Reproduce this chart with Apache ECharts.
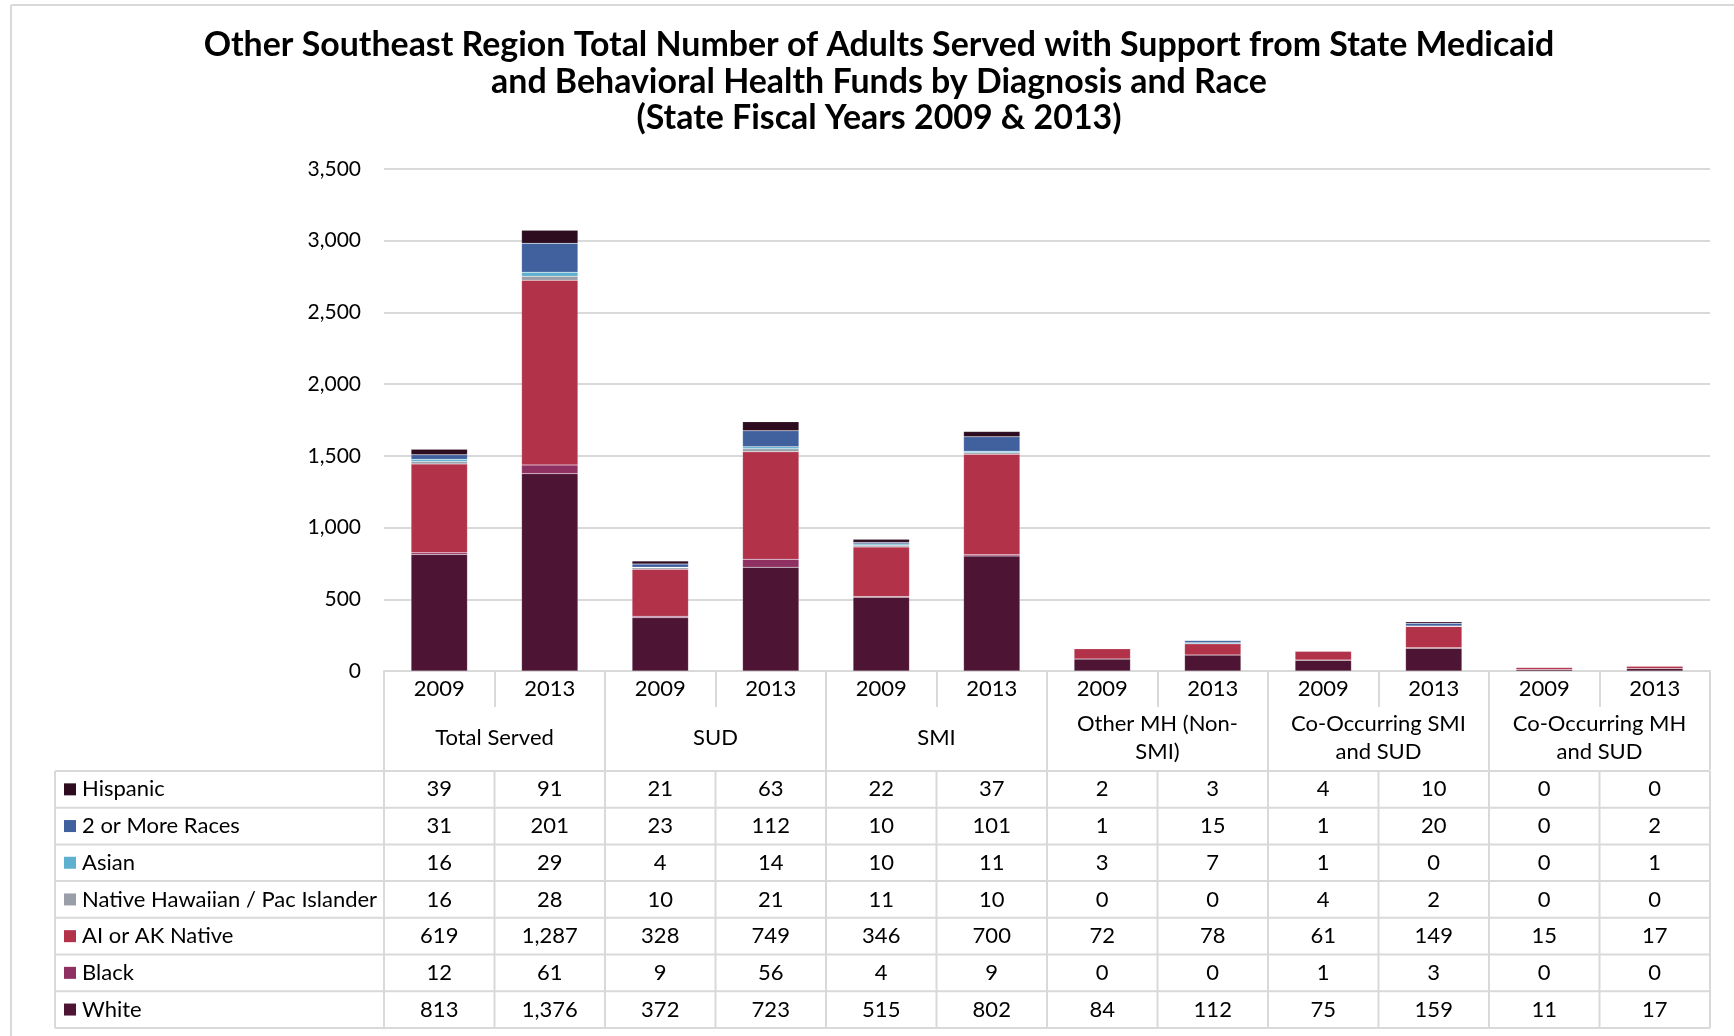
<!DOCTYPE html>
<html>
<head>
<meta charset="utf-8">
<script src="https://cdn.jsdelivr.net/npm/echarts@6/dist/echarts.min.js"></script>
<style>
  html, body { margin: 0; background: #fff; }
  #chart { width: 1734px; height: 1036px; }
</style>
</head>
<body>
<div id="chart"></div>
<script>
// categories
const years = ['2009', '2013', '2009', '2013', '2009', '2013', '2009', '2013', '2009', '2013', '2009', '2013']
const groups = ['Total Served', 'SUD', 'SMI', 'Other MH (Non-\nSMI)', 'Co-Occurring SMI\nand SUD', 'Co-Occurring MH\nand SUD']

// values per race, one per year column
const white = [813, 1376, 372, 723, 515, 802, 84, 112, 75, 159, 11, 17]
const black = [12, 61, 9, 56, 4, 9, 0, 0, 1, 3, 0, 0]
const aiak = [619, 1287, 328, 749, 346, 700, 72, 78, 61, 149, 15, 17]
const nhpi = [16, 28, 10, 21, 11, 10, 0, 0, 4, 2, 0, 0]
const asian = [16, 29, 4, 14, 10, 11, 3, 7, 1, 0, 0, 1]
const multi = [31, 201, 23, 112, 10, 101, 1, 15, 1, 20, 0, 2]
const hispanic = [39, 91, 21, 63, 22, 37, 2, 3, 4, 10, 0, 0]

// stack order, bottom to top
const raceNames = ['White', 'Black', 'AI or AK Native', 'Native Hawaiian / Pac Islander', 'Asian', '2 or More Races', 'Hispanic']
const raceValues = [white, black, aiak, nhpi, asian, multi, hispanic]
const raceColors = ['#4d1433', '#8e3062', '#b2324a', '#9a9ea8', '#5eb0cf', '#40609e', '#2d0c20']

const yTicks = { min: 0, max: 3500, interval: 500 }

const FONT = 'Lato, "DejaVu Sans", sans-serif'
const LINE = '#d9d9d9'

const chart = echarts.init(document.getElementById('chart'))

const gridBox = { left: 384, right: 24, top: 169, bottom: 365 }

chart.setOption({
  animation: false,
  backgroundColor: '#fff',
  textStyle: { fontFamily: FONT },
  title: {
    text: 'Other Southeast Region Total Number of Adults Served with Support from State Medicaid\nand Behavioral Health Funds by Diagnosis and Race\n(State Fiscal Years 2009 & 2013)',
    left: 874,
    textAlign: 'center',
    top: 22,
    textStyle: { fontFamily: FONT, fontSize: 33.9, fontWeight: 'bold', color: '#000', lineHeight: 36.5 }
  },
  grid: { ...gridBox, containLabel: false },
  xAxis: [
    {
      type: 'category',
      data: years,
      position: 'bottom',
      axisLine: { lineStyle: { color: LINE, width: 2 } },
      axisTick: { show: true, interval: 0, length: 36, lineStyle: { color: LINE, width: 2 } },
      axisLabel: { interval: 0, fontSize: 22, color: '#000', margin: 18, verticalAlign: 'middle' }
    },
    {
      type: 'category',
      data: groups,
      position: 'bottom',
      offset: 0,
      axisLine: { show: false },
      axisTick: { show: true, interval: 0, length: 99, lineStyle: { color: LINE, width: 2 } },
      axisLabel: { interval: 0, fontSize: 22, color: '#000', margin: 67, verticalAlign: 'middle', lineHeight: 28 }
    }
  ],
  yAxis: {
    type: 'value',
    ...yTicks,
    axisLine: { show: false },
    axisTick: { show: false },
    splitLine: { lineStyle: { color: LINE, width: 2 } },
    axisLabel: {
      fontSize: 21, color: '#000', margin: 23,
      formatter: v => v.toLocaleString('en-US')
    }
  },
  series: raceNames.map((name, i) => ({
    name,
    type: 'bar',
    stack: 'total',
    xAxisIndex: 0,
    barWidth: '51%',
    data: raceValues[i],
    itemStyle: { color: raceColors[i], borderColor: 'rgba(255,255,255,0.3)', borderWidth: 0.5 }
  }))
})

// data table under the chart, built from the same arrays
function buildTable() {
  const x0 = chart.convertToPixel({ xAxisIndex: 0 }, 0)
  const x1 = chart.convertToPixel({ xAxisIndex: 0 }, 1)
  const band = x1 - x0
  const left = x0 - band / 2
  const right = left + band * years.length
  const tableTop = 771
  const rowH = 36.7
  const legendLeft = 55
  const els = []

  // outer frame (left and top)
  els.push({ type: 'line', shape: { x1: 11, y1: 5, x2: 11, y2: 1036 }, style: { stroke: LINE, lineWidth: 2 } })
  els.push({ type: 'line', shape: { x1: 11, y1: 5, x2: 1734, y2: 5 }, style: { stroke: LINE, lineWidth: 2 } })

  const rows = raceNames.map((n, i) => i).reverse()
  const bottom = tableTop + rowH * rows.length

  for (let r = 0; r <= rows.length; r++) {
    const y = tableTop + rowH * r
    els.push({ type: 'line', shape: { x1: legendLeft, y1: y, x2: right, y2: y }, style: { stroke: LINE, lineWidth: 2 } })
  }
  els.push({ type: 'line', shape: { x1: legendLeft, y1: tableTop, x2: legendLeft, y2: bottom }, style: { stroke: LINE, lineWidth: 2 } })
  for (let k = 0; k <= years.length; k++) {
    const x = left + band * k
    els.push({ type: 'line', shape: { x1: x, y1: tableTop, x2: x, y2: bottom }, style: { stroke: LINE, lineWidth: 2 } })
  }

  rows.forEach((ri, r) => {
    const cy = tableTop + rowH * r + rowH / 2
    els.push({ type: 'rect', shape: { x: 64, y: cy - 6, width: 12, height: 12 }, style: { fill: raceColors[ri] } })
    els.push({
      type: 'text', x: 82, y: cy,
      style: { text: raceNames[ri], font: '22px ' + FONT, fill: '#000', textVerticalAlign: 'middle', textAlign: 'left' }
    })
    raceValues[ri].forEach((v, c) => {
      els.push({
        type: 'text', x: chart.convertToPixel({ xAxisIndex: 0 }, c), y: cy,
        style: { text: v.toLocaleString('en-US'), font: '22px ' + FONT, fill: '#000', textAlign: 'center', textVerticalAlign: 'middle' }
      })
    })
  })

  chart.setOption({ graphic: { elements: els } })
}

buildTable()
</script>
</body>
</html>
